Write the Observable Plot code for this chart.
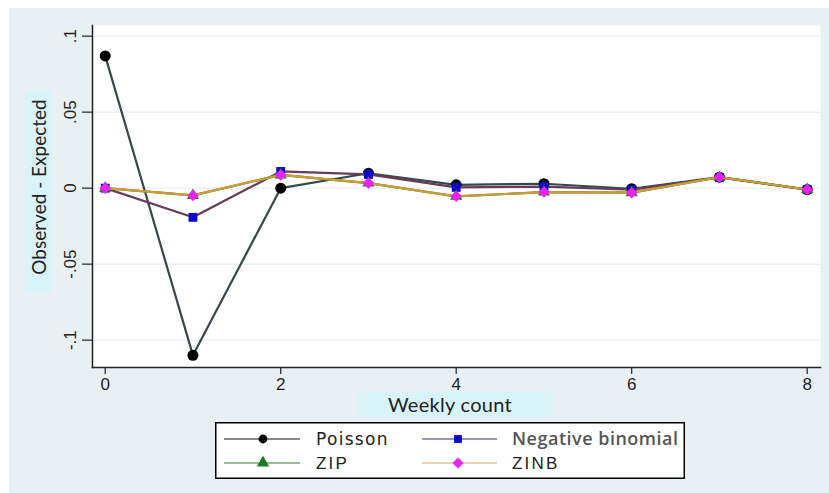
<!DOCTYPE html>
<html><head><meta charset="utf-8">
<script src="https://cdn.jsdelivr.net/npm/d3@7"></script>
<script src="https://cdn.jsdelivr.net/npm/@observablehq/plot@0.6"></script>
<style>
body{margin:0;background:#fff;}
#wrap{position:relative;width:829px;height:493px;overflow:hidden;background:#fff;}
#bg{position:absolute;left:9px;top:8px;width:820px;height:485px;background:#e9f0f3;}
#chart{position:absolute;left:9px;top:8px;}
.box{position:absolute;background:#d9f4f9;}
.ttl{position:absolute;color:#222;font-family:Lato,"Open Sans",sans-serif;white-space:nowrap;line-height:1;}
#ybox{left:25px;top:90px;width:27px;height:203px;}
#xbox{left:358px;top:392px;width:195px;height:25px;}
#ytitle{left:38px;top:187px;font-size:19px;transform:translate(-50%,-50%) rotate(-90deg);}
#xtitle{left:450px;top:404px;font-size:20px;letter-spacing:0.3px;transform:translate(-50%,-50%);}
#legend{position:absolute;left:215px;top:422px;}
</style></head>
<body><div id="wrap"><div id="bg"></div>
<div class="box" id="ybox"></div><div class="box" id="xbox"></div>
<div class="ttl" id="ytitle">Observed - Expected</div>
<div class="ttl" id="xtitle">Weekly count</div>
<div id="chart"></div><div id="legend"></div></div>
<script>
// ---- data ----
const counts = [0, 1, 2, 3, 4, 5, 6, 7, 8];
const poisson = [0.087, -0.110, 0.000, 0.0098, 0.0022, 0.0029, -0.0004, 0.0072, -0.0009];
const negbin  = [0.000, -0.0192, 0.0110, 0.0090, 0.0005, 0.0010, -0.0010, 0.0070, -0.0010];
const zip     = [0.000, -0.0048, 0.0087, 0.0033, -0.0054, -0.0026, -0.0030, 0.0072, -0.0009];
const zinb    = [0.000, -0.0048, 0.0087, 0.0033, -0.0054, -0.0026, -0.0030, 0.0072, -0.0009];
const seriesNames = ["Poisson", "Negative binomial", "ZIP", "ZINB"];
const yTicks = [-0.1, -0.05, 0, 0.05, 0.1];
const yTickLabels = ["-.1", "-.05", "0", ".05", ".1"];
const xTicks = [0, 2, 4, 6, 8];

// ---- styles ----
const styles = [
  {values: poisson, line: "#34494b", legendLine: "#111", fill: "#000", symbol: "circle", r: 5.5, lr: 4.4},
  {values: negbin,  line: "#6a3b58", legendLine: "#3a2f6e", fill: "#0a0ac8", symbol: "square", r: 5, lr: 4.4},
  {values: zip,     line: "#2f7a35", legendLine: "#2f7a35", fill: "#1c7a24", symbol: "triangle", r: 4.5, lr: 4.6},
  {values: zinb,    line: "#d09a34", legendLine: "#d6a86a", fill: "#ee22ee", symbol: "diamond2", r: 5.2, lr: 5}
];

const marks = [
  Plot.frame({fill: "white", stroke: null}),
  Plot.gridY(yTicks, {stroke: "#e6eaec", strokeOpacity: 1, strokeWidth: 1}),
  Plot.axisY(yTicks, {tickFormat: d => yTickLabels[yTicks.indexOf(d)], tickRotate: -90, tickSize: 10, tickPadding: 7, label: null, stroke: "#222", strokeWidth: 1.2}),
  Plot.axisX(xTicks, {tickSize: 7, tickPadding: 3, label: null, stroke: "#222", strokeWidth: 1.2}),
  Plot.frame({anchor: "left", stroke: "#222", strokeWidth: 1.5}),
  Plot.frame({anchor: "bottom", stroke: "#222", strokeWidth: 1.5})
];
styles.forEach((s, i) => {
  const data = counts.map((c, j) => ({x: c, y: s.values[j], series: seriesNames[i]}));
  marks.push(Plot.line(data, {x: "x", y: "y", stroke: s.line, strokeWidth: 2.2}));
  marks.push(Plot.dot(data, {x: "x", y: "y", symbol: s.symbol, fill: s.fill, stroke: "none", r: s.r}));
});

const chart = Plot.plot({
  width: 820, height: 485,
  marginLeft: 83, marginRight: 9, marginTop: 17, marginBottom: 126,
  style: {background: "transparent", fontFamily: "'Liberation Sans', Arial, sans-serif", fontSize: "17px", color: "#222"},
  x: {domain: [-0.1447, 8.1516]},
  y: {domain: [-0.118, 0.107]},
  marks
});
document.getElementById("chart").appendChild(chart);

// ---- legend ----
const lw = 470, lh = 57;
const lsvg = d3.select("#legend").append("svg").attr("width", lw).attr("height", lh);
lsvg.append("rect").attr("x", 0.75).attr("y", 0.75).attr("width", lw - 1.5).attr("height", lh - 1.5)
  .attr("fill", "white").attr("stroke", "#000").attr("stroke-width", 1.5);
const symMap = {circle: d3.symbolCircle, square: d3.symbolSquare, triangle: d3.symbolTriangle, diamond2: d3.symbolDiamond2};
const cols = [{x0: 9, x1: 85, xm: 48, xt: 101}, {x0: 207, x1: 282, xm: 243, xt: 297}];
const rows = [17, 41];
const fonts = [
  {family: "'DejaVu Sans', Verdana, sans-serif", weight: 400, color: "#222", size: 17, ls: 1.3},
  {family: "'Open Sans', Lato, sans-serif", weight: 600, color: "#555", size: 18, ls: 0.5},
  {family: "'Liberation Sans', Arial, sans-serif", weight: 400, color: "#222", size: 17, ls: 2.2},
  {family: "'Liberation Sans', Arial, sans-serif", weight: 400, color: "#222", size: 17, ls: 2.2}
];
styles.forEach((s, i) => {
  const c = cols[i % 2], y = rows[Math.floor(i / 2)];
  const g = lsvg.append("g");
  g.append("line").attr("x1", c.x0).attr("x2", c.x1).attr("y1", y).attr("y2", y).attr("stroke", s.legendLine).attr("stroke-width", 1.2);
  g.append("path").attr("transform", `translate(${c.xm},${y})`)
    .attr("d", d3.symbol(symMap[s.symbol], Math.PI * s.lr * s.lr)()).attr("fill", s.fill);
  const f = fonts[i];
  g.append("text").attr("x", c.xt).attr("y", y).attr("dy", "0.35em").text(seriesNames[i])
    .attr("font-family", f.family).attr("font-weight", f.weight).attr("fill", f.color)
    .attr("font-size", f.size).attr("letter-spacing", f.ls);
});
</script>
</body></html>
